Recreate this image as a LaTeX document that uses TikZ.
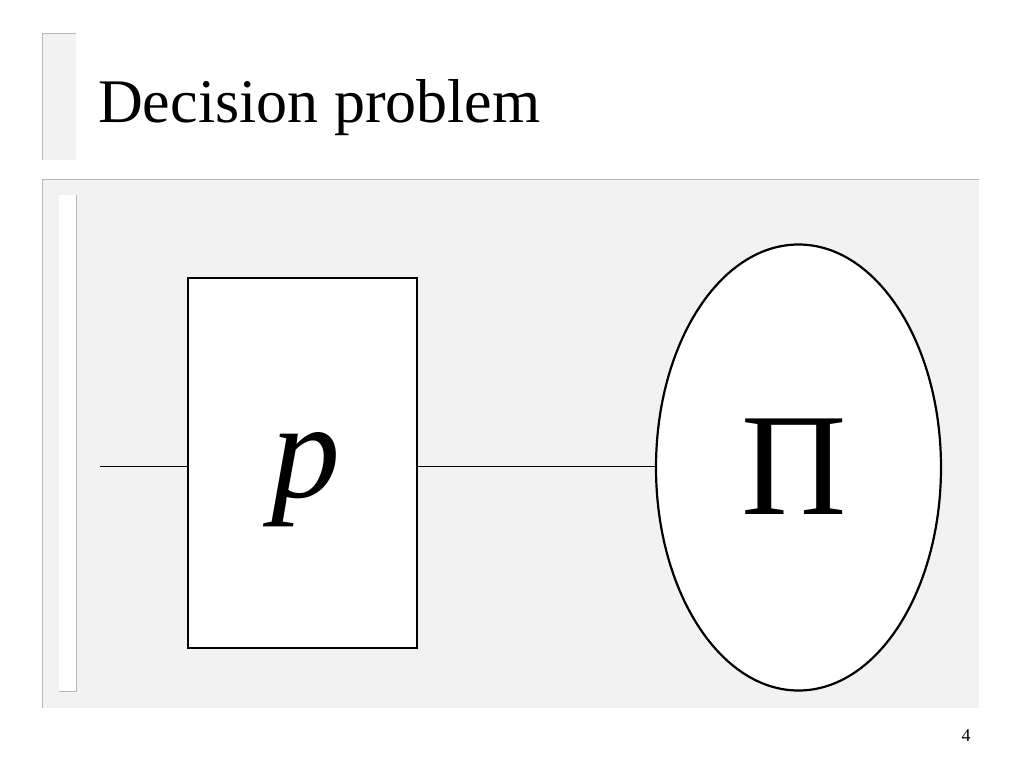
\documentclass[tikz,border=0pt]{standalone}
\usepackage{fontspec}
\setmainfont{Liberation Serif}
\usetikzlibrary{positioning,shapes.geometric}

\definecolor{panelgray}{HTML}{F2F2F2}
\definecolor{edgegray}{HTML}{B8B8B8}

\begin{document}
\begin{tikzpicture}[
      x=1pt, y=-1pt,
      block/.style={rectangle, draw, fill=white, line width=1.2pt, minimum width=229pt, minimum height=370pt, inner sep=0pt},
      oval/.style={ellipse, draw, fill=white, line width=2.2pt, minimum width=285pt, minimum height=446pt, inner sep=0pt},
      wire/.style={line width=1pt},
      frame/.style={edgegray, line width=1pt}
    ]

    \useasboundingbox (0,0) rectangle (1024,768);

    % Title bar
    \fill[panelgray] (42,34) rectangle (76,160);
    \draw[frame] (42,160) -- (42,34) -- (76,34);
    \node[anchor=base west, inner sep=0pt, font=\fontsize{62}{70}\selectfont] (title) at (98,122) {Decision problem};

    % Panel
    \fill[panelgray] (42,179) rectangle (979,708);
    \draw[frame] (42,708) -- (42,179) -- (979,179);
    \fill[white] (59,195) rectangle (76,691);
    \draw[frame] (59,691) -- (76,691) -- (76,195);

    % Blocks
    \node[block] (block) at (302.5,463) {};
    \node[oval] (oval) at (798.5,467.5) {};
    \node[anchor=base, inner sep=0pt, font=\fontsize{138}{140}\selectfont\itshape] (plabel) at ([xshift=3pt, yshift=-34pt]block.center) {p};
    \node[anchor=base, inner sep=0pt, font=\fontsize{146}{150}\selectfont] (pilabel) at ([xshift=-4pt, yshift=-46.5pt]oval.center) {Π};

    % Connections
    \coordinate (in) at (100,466);
    \draw[wire] (in) -- (in -| block.west);
    \draw[wire] (block.east |- in) -- (in -| oval.west);

    % Page number
    \node[anchor=base, inner sep=0pt, font=\fontsize{18}{20}\selectfont] (page) at (966,741) {4};

  \end{tikzpicture}
\end{document}
